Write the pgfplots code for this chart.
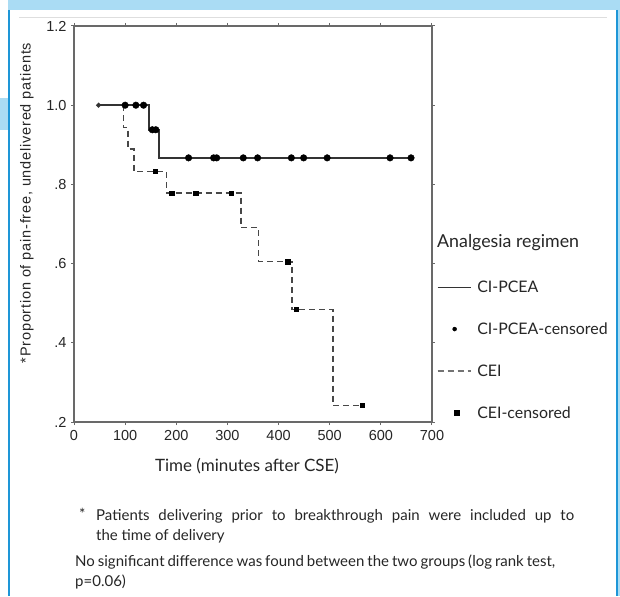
\documentclass[border=0pt]{standalone}
\usepackage{fontspec}
\setmainfont{Lato}
\newfontfamily\arial{Liberation Sans}
\newfontfamily\arialsp[LetterSpace=5.5]{Liberation Sans}
\usepackage{pgfplots}
\pgfplotsset{compat=1.18}
\definecolor{bandblue}{RGB}{170,220,244}
\definecolor{lineblue}{RGB}{30,150,215}
\definecolor{axgray}{RGB}{105,105,105}
\begin{document}
\begin{tikzpicture}[x=1pt,y=-1pt]
\fill[white] (0,0) rectangle (620,596);
\path[use as bounding box] (0,0) rectangle (620,596);
\fill[bandblue] (8,0) rectangle (620,10);
\fill[bandblue] (0,98) rectangle (8,130);
\fill[bandblue] (618,10) rectangle (620,596);
\draw[lineblue, line width=1.5pt] (9,10) -- (9,596);
\draw[lineblue, line width=2pt] (617,10) -- (617,596);
\draw[black!13, line width=1pt] (19,18) -- (607,18);

\begin{axis}[
  at={(74pt,-422pt)}, anchor=south west,
  scale only axis, width=358pt, height=396pt,
  xmin=0, xmax=700, ymin=0.2, ymax=1.2,
  xtick={0,100,...,700},
  ytick={0.2,0.4,0.6,0.8,1.0,1.2},
  yticklabels={.2,.4,.6,.8,1.0,1.2},
  tick align=outside, major tick length=3pt,
  /pgf/number format/assume math mode=true,
  ticklabel style={font=\arial\fontsize{14.5}{14.5}\selectfont, text=black!85},
  xticklabel style={yshift=-2pt},
  yticklabel style={xshift=-1pt},
  axis line style={axgray, line width=2pt},
  tick style={axgray, line width=1pt},
  legend cell align=left,
  legend style={at={(1.014,0.362)}, anchor=north west, draw=none, fill=none,
    inner sep=0pt, outer sep=0pt, row sep=24.8pt, column sep=0pt,
    /tikz/every odd column/.append style={column sep=4pt},
    font=\fontsize{15.9}{15.9}\selectfont, text=black!85},
]
\addplot[const plot, black!80, line width=1.6pt, mark=*, mark indices={1}, mark size=1.6pt,
  legend image code/.code={\draw[black!80,line width=1.2pt] (0pt,0pt) -- (33pt,0pt);}]
  coordinates {(48,1.0) (147,0.938) (166,0.867) (660,0.867)};
\addlegendentry{CI-PCEA}
\addplot[only marks, mark=*, mark size=3.3pt, black,
  legend image code/.code={\draw[black] plot[mark=*, mark size=2pt] coordinates {(17pt,0pt)};}]
  coordinates {(100,1.0) (121,1.0) (136,1.0) (153,0.938) (160,0.938)
    (224,0.867) (273,0.867) (279,0.867) (331,0.867) (359,0.867) (425,0.867)
    (449,0.867) (495,0.867) (618,0.867) (659,0.867)};
\addlegendentry{CI-PCEA-censored}
\addplot[const plot, black!72, line width=1.6pt, dash pattern=on 6pt off 4pt,
  legend image code/.code={\draw[black!55,line width=1.3pt, dash pattern=on 6pt off 4pt] (0pt,0pt) -- (33pt,0pt);}]
  coordinates {(97,1.0) (97,0.944) (106,0.889) (117,0.833) (181,0.778) (327,0.691)
    (361,0.605) (426,0.484) (507,0.242) (565,0.242)};
\addlegendentry{CEI}
\addplot[only marks, mark=square*, mark size=2.1pt, black,
  legend image code/.code={\draw[black] plot[mark=square*, mark size=2.3pt] coordinates {(19pt,0pt)};}]
  coordinates {(158,0.833) (191,0.778) (238,0.778) (307,0.778) (418,0.605) (434,0.484) (564,0.242)};
\addlegendentry{CEI-censored}
\end{axis}

\node[anchor=west, font=\fontsize{17.8}{17.8}\selectfont, text=black!85, inner sep=0pt] at (437,243) {Analgesia regimen};
\node[font=\fontsize{17}{17}\selectfont, text=black!85] at (247,466) {Time (minutes after CSE)};
\node[rotate=90, font=\arialsp\fontsize{14.5}{14.5}\selectfont, text=black!85] at (27,203) {*Proportion of pain-free, undelivered patients};

\begin{scope}[every node/.style={anchor=base west, inner sep=0pt, text=black!85, font=\fontsize{15}{15}\selectfont}]
\node at (79,519) {*};
\node at (96,520) {\makebox[478pt][s]{Patients delivering prior to breakthrough pain were included up to}};
\node at (96,540) {the time of delivery};
\node at (75,566) {\makebox[480pt][s]{No significant difference was found between the two groups (log rank test,}};
\node at (75,586) {p=0.06)};
\end{scope}
\end{tikzpicture}
\end{document}
